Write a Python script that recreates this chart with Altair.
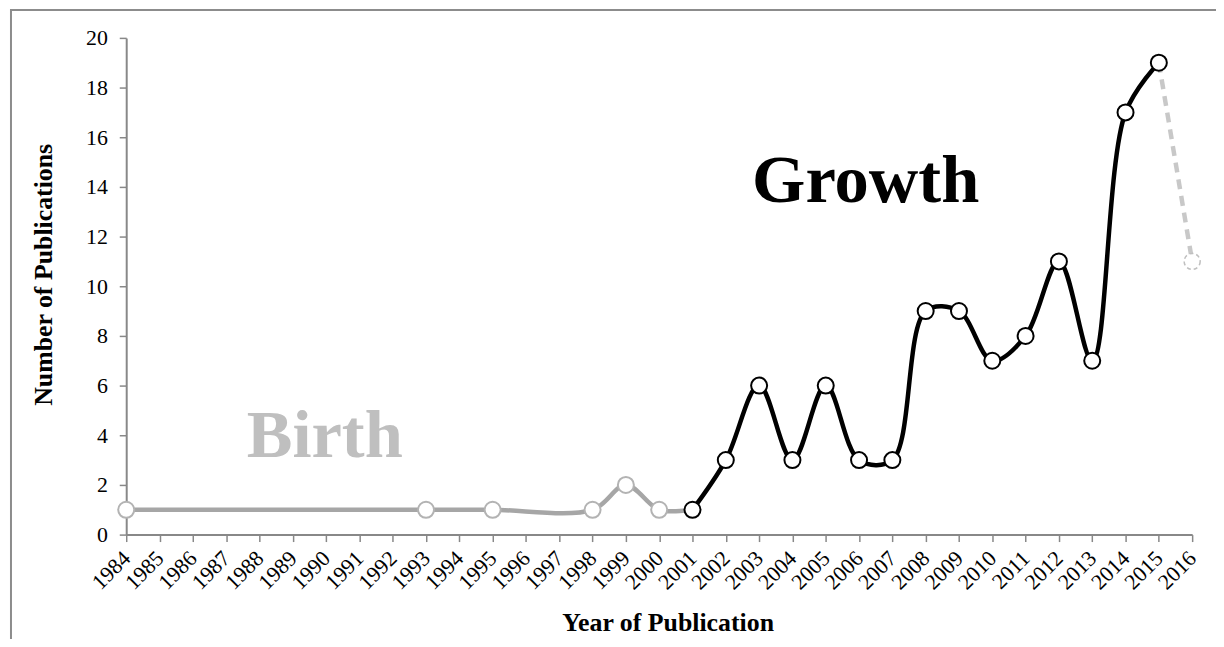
import altair as alt
import pandas as pd

birth_years = [1984, 1993, 1995, 1998, 1999, 2000, 2001]
birth_values = [1, 1, 1, 1, 2, 1, 1]
growth_years = [2001, 2002, 2003, 2004, 2005, 2006, 2007, 2008, 2009, 2010, 2011, 2012, 2013, 2014, 2015]
growth_values = [1, 3, 6, 3, 6, 3, 3, 9, 9, 7, 8, 11, 7, 17, 19]
partial_years = [2015, 2016]
partial_values = [19, 11]

x_ticks = list(range(1984, 2017))
y_ticks = [0, 2, 4, 6, 8, 10, 12, 14, 16, 18, 20]

FONT = "Liberation Serif"
W, H = 1073, 500

birth = pd.DataFrame({"year": birth_years, "n": birth_values})
growth = pd.DataFrame({"year": growth_years, "n": growth_values})
partial = pd.DataFrame({"year": partial_years, "n": partial_values})

xs = alt.Scale(domain=[1984, 2016], nice=False, zero=False)
ys = alt.Scale(domain=[0, 20], nice=False)

X = alt.X("year:Q", scale=xs, title="Year of Publication",
          axis=alt.Axis(values=x_ticks, format="d", labelAngle=-45,
                        labelAlign="right", labelBaseline="middle",
                        labelOverlap=False, labelFlush=False,
                        labelFont=FONT, labelFontSize=22, labelColor="#000",
                        labelPadding=13, tickColor="#888", domainColor="#888",
                        tickSize=7, tickWidth=1.5, domainWidth=2,
                        titleFont=FONT, titleFontSize=26,
                        titleFontWeight="bold", titleColor="#000",
                        titleX=545, titleY=97, titleBaseline="alphabetic",
                        titleAnchor="middle", grid=False))
Y = alt.Y("n:Q", scale=ys, title="Number of Publications",
          axis=alt.Axis(values=y_ticks, labelFont=FONT, labelFontSize=22,
                        labelColor="#000", labelPadding=12, tickColor="#888",
                        domainColor="#888", tickSize=7, tickWidth=1.5, domainWidth=2,
                        labelOverlap=False, labelFlush=False,
                        titleFont=FONT, titleFontSize=26, titleFontWeight="bold",
                        titleColor="#000", titleX=-75, titleY=238,
                        titleBaseline="alphabetic", titleAnchor="middle",
                        grid=False))

frame = alt.Chart(pd.DataFrame({"a": [0]})).mark_rect(
    fill=None, stroke="#8c8c8c", strokeWidth=2, clip=False
).encode(x=alt.value(-116), x2=alt.value(1200), y=alt.value(-28), y2=alt.value(700))

birth_line = alt.Chart(birth).mark_line(
    color="#a6a6a6", strokeWidth=4.5, interpolate="catmull-rom"
).encode(x=X, y=Y)
growth_line = alt.Chart(growth).mark_line(
    color="#000000", strokeWidth=4.5, interpolate="catmull-rom"
).encode(x=X, y=Y)
partial_line = alt.Chart(partial).mark_line(
    color="#c8c8c8", strokeWidth=4.5, strokeDash=[10, 7]
).encode(x=X, y=Y)

birth_pts = alt.Chart(birth[birth.year < 2001]).mark_point(
    shape="circle", size=260, filled=True, fill="white", stroke="#b3b3b3",
    strokeWidth=2, opacity=1
).encode(x=X, y=Y)
growth_pts = alt.Chart(growth).mark_point(
    shape="circle", size=260, filled=True, fill="white", stroke="#000000",
    strokeWidth=2, opacity=1
).encode(x=X, y=Y)
partial_pts = alt.Chart(partial[partial.year == 2016]).mark_point(
    shape="circle", size=260, filled=True, fill="white", stroke="#bfbfbf",
    strokeWidth=1.5, strokeDash=[4, 3], opacity=1
).encode(x=X, y=Y)

labels = pd.DataFrame({"t": ["Birth", "Growth"], "year": [1989.96, 2006.2], "n": [3.96, 14.24],
                       "c": ["#bfbfbf", "#000000"]})
text = alt.Chart(labels).mark_text(
    font=FONT, fontSize=69, fontWeight="bold", align="center", baseline="middle"
).encode(x=X, y=Y, text="t:N", color=alt.Color("c:N", scale=None))

chart = alt.layer(frame, birth_line, growth_line, partial_line,
                  birth_pts, growth_pts, partial_pts, text).properties(
    width=W, height=H,
    background="white",
    autosize=alt.AutoSizeParams(type="none"),
    padding={"left": 119, "top": 28, "right": 24, "bottom": 103},
).configure_view(stroke="transparent", strokeWidth=0)

chart.save("out.html", embed_options={"renderer": "svg", "actions": False})
